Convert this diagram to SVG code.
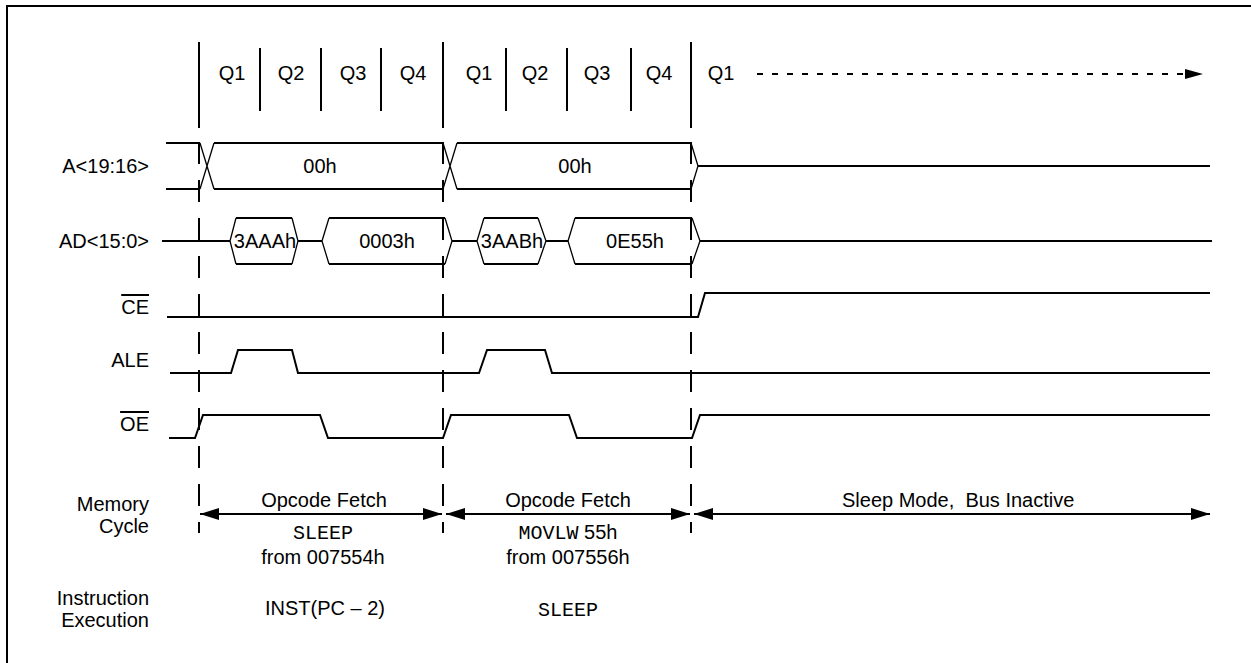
<svg xmlns="http://www.w3.org/2000/svg" width="1251" height="663" viewBox="0 0 1251 663">
<style>
.t{font-family:"Liberation Sans",Arial,Helvetica,sans-serif;font-size:20px;fill:#000}
.m{font-family:"Liberation Mono","Courier New",monospace;font-size:20px;fill:#000}
.e{text-anchor:end}
.c{text-anchor:middle}
.s{fill:none;stroke:#000;stroke-width:2;stroke-linejoin:miter}
.d{fill:none;stroke:#000;stroke-width:1.3}
.tick{stroke:#000;stroke-width:2}
.dash{fill:none;stroke:#000;stroke-width:2;stroke-dasharray:22 16}
.ov{text-decoration:overline}
</style>
<defs>
<marker id="ah" viewBox="0 0 19 12" markerWidth="19" markerHeight="12" markerUnits="userSpaceOnUse" refX="19" refY="6" orient="auto-start-reverse">
<path d="M0,0 L19,6 L0,12 Z" fill="#000"/>
</marker>
</defs>
<rect width="1251" height="663" fill="#fff"/>
<path d="M7,663 V6 H1251" fill="none" stroke="#000" stroke-width="2"/>

<g id="clock">
<path class="tick" d="M199,42 V128 M260,48 V111 M321,48 V111 M381,48 V111 M443,42 V128 M506,48 V111 M567,48 V111 M631,48 V111 M691,42 V128"/>
<text class="t c" x="232" y="80">Q1</text>
<text class="t c" x="291" y="80">Q2</text>
<text class="t c" x="353" y="80">Q3</text>
<text class="t c" x="413" y="80">Q4</text>
<text class="t c" x="479" y="80">Q1</text>
<text class="t c" x="535" y="80">Q2</text>
<text class="t c" x="597" y="80">Q3</text>
<text class="t c" x="659" y="80">Q4</text>
<text class="t c" x="721" y="80">Q1</text>
</g>

<g id="cycle-markers">
<path class="dash" d="M199,142 V533 M443,142 V533 M691,142 V533"/>
</g>

<g id="sig-A">
<text class="t e" x="149" y="173">A&lt;19:16&gt;</text>
<path class="s" d="M166,143 H200 M166,189 H200 M214,143 H443 M214,189 H443 M457,143 H691 M457,189 H691 M698,166 H1210"/>
<path class="d" d="M200,143 L214,189 M200,189 L214,143 M443,143 L457,189 M443,189 L457,143 M691,143 L698,166 L691,189"/>
<text class="t c" x="320" y="173">00h</text>
<text class="t c" x="575" y="173">00h</text>
</g>

<g id="sig-AD">
<text class="t e" x="149" y="248">AD&lt;15:0&gt;</text>
<path class="s" d="M162,241 H230 M298,241 H322 M452,241 H477 M546,241 H568 M700,241 H1212"/>
<path class="s" d="M236,218 H292 M236,264 H292 M329,218 H445 M329,264 H445 M484,218 H538 M484,264 H538 M575,218 H692 M575,264 H692"/>
<path class="d" d="M236,218 L230,241 L236,264 M292,218 L298,241 L292,264 M329,218 L322,241 L329,264 M445,218 L452,241 L445,264 M484,218 L477,241 L484,264 M538,218 L546,241 L538,264 M575,218 L568,241 L575,264 M692,218 L700,241 L692,264"/>
<text class="t c" x="265" y="248">3AAAh</text>
<text class="t c" x="387" y="248">0003h</text>
<text class="t c" x="512" y="248">3AABh</text>
<text class="t c" x="635" y="248">0E55h</text>
</g>

<g id="sig-CE">
<text class="t e ov" x="149" y="314">CE</text>
<path class="s" d="M167,317 H698 L705,293 H1210"/>
</g>

<g id="sig-ALE">
<text class="t e" x="149" y="367">ALE</text>
<path class="s" d="M170,373 H231 L238,350 H292 L298,373 H479 L487,350 H545 L552,373 H1210"/>
</g>

<g id="sig-OE">
<text class="t e ov" x="149" y="431">OE</text>
<path class="s" d="M169,438 H195 L203,415 H320 L328,438 H443 L451,415 H569 L577,438 H692 L700,415 H1210"/>
</g>

<g id="mem-cycle">
<text class="t e" x="149" y="511">Memory</text>
<text class="t e" x="149" y="533">Cycle</text>
<text class="t c" x="324" y="507">Opcode Fetch</text>
<text class="m c" x="323" y="539">SLEEP</text>
<text class="t c" x="323" y="564">from 007554h</text>
<text class="t c" x="568" y="507">Opcode Fetch</text>
<text class="t c" x="568" y="539"><tspan class="m">MOVLW</tspan> 55h</text>
<text class="t c" x="568" y="564">from 007556h</text>
<text class="t" x="842" y="507" xml:space="preserve">Sleep Mode,  Bus Inactive</text>
</g>

<g id="inst-exec">
<text class="t e" x="149" y="605">Instruction</text>
<text class="t e" x="149" y="627">Execution</text>
<text class="t c" x="325" y="615">INST(PC – 2)</text>
<text class="m c" x="568" y="616">SLEEP</text>
</g>

<g id="connectors">
<path class="s" d="M200,514 H442" marker-start="url(#ah)" marker-end="url(#ah)"/>
<path class="s" d="M446,514 H690" marker-start="url(#ah)" marker-end="url(#ah)"/>
<path class="s" d="M694,514 H1210" marker-start="url(#ah)" marker-end="url(#ah)"/>
<path d="M757,74 H1186" fill="none" stroke="#000" stroke-width="2" stroke-dasharray="6 9"/>
<path d="M1185,69 L1203,74 L1185,79 Z" fill="#000"/>
</g>
</svg>
